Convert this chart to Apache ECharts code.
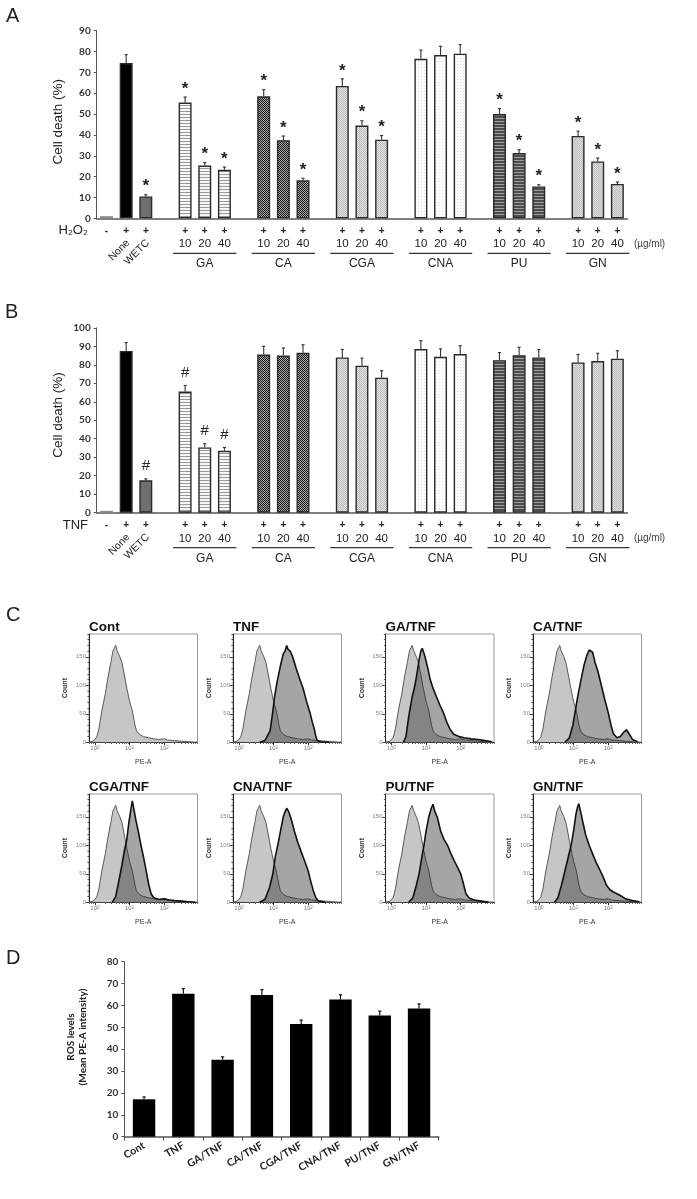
<!DOCTYPE html>
<html><head><meta charset="utf-8">
<script src="https://cdn.jsdelivr.net/npm/echarts@6/dist/echarts.min.js"></script>
<style>html,body{margin:0;padding:0;background:#fff}#c{width:697px;height:1199px}</style>
</head><body><div id="c"></div>
<script>
// ---------------- DATA ----------------
const barCategories = ['Control','None','WETC','gap1','GA 10','GA 20','GA 40','gap2','CA 10','CA 20','CA 40','gap3',
  'CGA 10','CGA 20','CGA 40','gap4','CNA 10','CNA 20','CNA 40','gap5','PU 10','PU 20','PU 40','gap6','GN 10','GN 20','GN 40'];
const stimulusSigns = ['-','+','+','','+','+','+','','+','+','+','','+','+','+','','+','+','+','','+','+','+','','+','+','+'];
const doseLabels = ['','','','','10','20','40','','10','20','40','','10','20','40','','10','20','40','','10','20','40','','10','20','40'];
const rotatedLabels = ['','None','WETC'];
const groupNames = ['GA','CA','CGA','CNA','PU','GN'];
const groupFirstIndex = [4,8,12,16,20,24];

const h2o2Death = [1,74.5,10.5,null,55.5,25.3,23.3,null,58.5,37.5,18.2,null,63.5,44.5,37.7,null,76.5,78.3,79,null,50,31.3,15.3,null,39.5,27.3,16.5];
const h2o2Err   = [0,4,0.8,null,2.7,1.4,1.3,null,3.2,2,1,null,3.4,2.3,2,null,4.2,4.2,4.3,null,2.6,1.6,0.8,null,2.3,1.6,0.9];
const h2o2Marks = ['','','*','','*','*','*','','*','*','*','','*','*','*','','','','','','*','*','*','','*','*','*'];

const tnfDeath = [1,87.5,17.5,null,65.5,35.3,33.5,null,85.5,85,86.5,null,84,79.5,73,null,88.5,84.3,85.8,null,82.5,85.2,84,null,81.3,82,83.3];
const tnfErr   = [0,4.5,0.8,null,3.3,2,1.8,null,4.5,4.1,4.3,null,4.3,4.1,3.8,null,4.5,4.3,4.5,null,4.1,4.3,4.2,null,4.3,4.2,4.3];
const tnfMarks = ['','','#','','#','#','#'];

const histTitles = ['Cont','TNF','GA/TNF','CA/TNF','CGA/TNF','CNA/TNF','PU/TNF','GN/TNF'];
const histControl = [[-0.17,0],[-0.05,2],[0.05,8],[0.12,25],[0.2,55],[0.3,85],[0.38,115],[0.46,140],[0.52,160],[0.56,157],[0.6,170],[0.64,161],[0.68,164],[0.72,150],[0.78,140],[0.85,118],[0.92,95],[1.0,72],[1.08,55],[1.15,32],[1.2,20],[1.28,14],[1.4,10],[1.55,8],[1.7,6],[1.85,5],[2.0,6],[2.1,4],[2.3,3],[2.5,2],[2.7,1],[2.95,0]];
const histTNF = [[0.6,0],[0.75,3],[0.9,20],[0.97,50],[1.03,80],[1.1,105],[1.2,135],[1.28,155],[1.33,160],[1.38,170],[1.42,163],[1.48,160],[1.55,150],[1.65,130],[1.75,112],[1.85,95],[1.95,72],[2.05,52],[2.12,35],[2.18,22],[2.22,10],[2.26,3],[2.35,1],[2.6,0]];
const histGA = [[0.35,0],[0.42,10],[0.5,45],[0.6,80],[0.68,100],[0.75,125],[0.8,145],[0.85,160],[0.89,165],[0.93,158],[0.97,150],[1.05,130],[1.12,110],[1.2,95],[1.3,80],[1.4,65],[1.5,52],[1.6,35],[1.7,22],[1.8,14],[1.95,10],[2.1,8],[2.3,6],[2.5,5],[2.7,3],[2.9,1]];
const histCA = [[0.75,0],[0.88,8],[0.98,30],[1.05,55],[1.12,80],[1.2,105],[1.3,135],[1.38,152],[1.45,162],[1.5,165],[1.55,158],[1.62,140],[1.7,125],[1.8,100],[1.9,75],[2.0,52],[2.08,30],[2.15,15],[2.25,8],[2.35,10],[2.45,18],[2.53,22],[2.6,15],[2.7,5],[2.85,1]];
const histCGA = [[0.5,0],[0.6,10],[0.7,40],[0.78,65],[0.85,90],[0.92,110],[0.98,140],[1.03,160],[1.08,178],[1.12,165],[1.18,145],[1.25,125],[1.33,100],[1.4,80],[1.48,55],[1.55,32],[1.62,15],[1.7,8],[1.85,5],[2.0,6],[2.15,4],[2.3,3],[2.5,2],[2.7,1],[2.9,0]];
const histCNA = [[0.6,0],[0.75,5],[0.88,25],[0.98,50],[1.05,80],[1.12,100],[1.2,125],[1.28,150],[1.34,160],[1.38,165],[1.43,160],[1.5,148],[1.6,125],[1.7,105],[1.8,88],[1.9,72],[2.0,55],[2.08,35],[2.15,20],[2.22,8],[2.3,2],[2.5,0]];
const histPU = [[0.5,0],[0.62,8],[0.72,30],[0.8,50],[0.88,80],[0.94,100],[1.0,125],[1.08,150],[1.15,165],[1.2,172],[1.25,160],[1.33,148],[1.42,125],[1.52,110],[1.62,100],[1.72,85],[1.82,72],[1.92,60],[2.0,50],[2.08,32],[2.15,15],[2.25,7],[2.4,4],[2.6,2],[2.8,0]];
const histGN = [[0.45,0],[0.55,8],[0.65,30],[0.75,55],[0.85,80],[0.93,100],[1.0,125],[1.07,155],[1.12,168],[1.15,173],[1.2,160],[1.27,140],[1.35,118],[1.45,100],[1.55,85],[1.65,70],[1.75,58],[1.85,45],[1.95,30],[2.05,22],[2.15,18],[2.25,15],[2.35,12],[2.5,6],[2.7,3],[2.9,1]];
const histTreatments = [null,histTNF,histGA,histCA,histCGA,histCNA,histPU,histGN];
const countTicks = [0,50,100,150];
const decadeTicks = [0,1,2];

const rosCategories = ['Cont','TNF','GA/TNF','CA/TNF','CGA/TNF','CNA/TNF','PU/TNF','GN/TNF'];
const rosLevels = [17.1,65.3,35.2,64.8,51.5,62.7,55.4,58.6];
const rosErr    = [1.1,2.4,1.3,2.4,1.8,2.2,2.0,2.1];

// ---------------- STYLE ----------------
const fArial = "'Liberation Sans', Arial, sans-serif";
const fTick = "Lato, 'Liberation Sans', sans-serif";
function pattern(w,h,draw){const c=document.createElement('canvas');c.width=w;c.height=h;draw(c.getContext('2d'));return {image:c,repeat:'repeat'};}
const fills = {
  ctrl:'#dcdcdc', none:'#000000', wetc:'#6f6f6f',
  ga: pattern(4,3,g=>{g.fillStyle='#f6f6f6';g.fillRect(0,0,4,3);g.fillStyle='#9a9a9a';g.fillRect(0,0,4,1);}),
  ca: pattern(2,2,g=>{g.fillStyle='#a8a8a8';g.fillRect(0,0,2,2);g.fillStyle='#1a1a1a';g.fillRect(0,0,1,1);g.fillRect(1,1,1,1);}),
  cga: pattern(2,2,g=>{g.fillStyle='#e6e6e6';g.fillRect(0,0,2,2);g.fillStyle='#b9b9b9';g.fillRect(0,0,1,1);g.fillRect(1,1,1,1);}),
  cna: pattern(3,3,g=>{g.fillStyle='#fcfcfc';g.fillRect(0,0,3,3);g.fillStyle='#e0e0e0';g.fillRect(1,1,1,1);}),
  pu: pattern(4,3,g=>{g.fillStyle='#4c4c4c';g.fillRect(0,0,4,3);g.fillStyle='#a0a0a0';g.fillRect(0,1,4,1);}),
  gn: pattern(2,2,g=>{g.fillStyle='#dcdcdc';g.fillRect(0,0,2,2);g.fillStyle='#bfbfbf';g.fillRect(0,0,1,1);g.fillRect(1,1,1,1);})
};
const groupStyleKeys = ['ga','ca','cga','cna','pu','gn'];
function styleKey(i){ if(i<3) return ['ctrl','none','wetc'][i]; const g=groupFirstIndex.findIndex(s=>i>=s&&i<s+3); return g<0?null:groupStyleKeys[g]; }

function barSeries(vals, xi, yi){
  return {type:'bar', xAxisIndex:xi, yAxisIndex:yi, barCategoryGap:'34%', z:3, silent:true,
    data: vals.map((v,i)=> v==null ? '-' : {value:v, itemStyle:{color:fills[styleKey(i)], borderColor: i===0?'#8a8a8a':'#2a2a2a', borderWidth:1.4}})};
}
function errSeries(vals, errs, marks, xi, yi, markFont, markOff, color){
  const data=[]; vals.forEach((v,i)=>{ if(v!=null) data.push([i,v,errs[i]]); });
  return {type:'custom', xAxisIndex:xi, yAxisIndex:yi, z:10, silent:true, data,
    renderItem(params, api){
      const i=api.value(0), v=api.value(1), e=api.value(2);
      const p0=api.coord([i,v]), p1=api.coord([i,v+e]);
      const ch=[];
      if(e>0){
        ch.push({type:'line', shape:{x1:p0[0],y1:p0[1],x2:p1[0],y2:p1[1]}, style:{stroke:color,lineWidth:1.1}});
        ch.push({type:'line', shape:{x1:p1[0]-1.6,y1:p1[1],x2:p1[0]+1.6,y2:p1[1]}, style:{stroke:color,lineWidth:1.1}});
      }
      const m = marks && marks[i] ? marks[i] : '';
      if(m) ch.push({type:'text', x:p1[0], y:p1[1]-markOff, style:{text:m, font:markFont, fill:'#222', align:'center', verticalAlign:'middle'}});
      return {type:'group', children:ch};
    }};
}

const grids=[], xAxes=[], yAxes=[], series=[];
// ----- Panels A & B -----
function cellDeathPanel(top, bottom, maxY, vals, errs, marks, markFont, markOff){
  const gi=grids.length;
  grids.push({left:96.7, width:530.5, top:top, height:bottom-top});
  const xi=xAxes.length;
  xAxes.push({type:'category', gridIndex:gi, position:'bottom', data:barCategories, axisLine:{lineStyle:{color:'#7f7f7f',width:2}}, axisTick:{show:false}, axisLabel:{show:false}});
  xAxes.push({type:'category', gridIndex:gi, position:'bottom', data:barCategories, axisLine:{show:false}, axisTick:{show:false},
    axisLabel:{interval:0, margin:6, color:'#222', formatter:(v,i)=>{const s=stimulusSigns[i]; if(!s) return ''; const d=doseLabels[i]; return d?`{s|${s}}\n{d|${d}}`:`{s|${s}}`;},
      rich:{s:{fontFamily:fArial,fontSize:10,fontWeight:'bold',lineHeight:13.3,color:'#222'}, d:{fontFamily:fArial,fontSize:11.5,lineHeight:13.3,color:'#222'}}}});
  const yi=yAxes.length;
  yAxes.push({type:'value', gridIndex:gi, position:'left', min:0, max:maxY, interval:10, axisLine:{show:true,lineStyle:{color:'#555',width:1}},
    axisTick:{show:true,length:3,lineStyle:{color:'#555'}}, splitLine:{show:false},
    axisLabel:{fontFamily:fTick,fontSize:10,fontWeight:'bold',color:'#333',margin:6}});
  series.push(barSeries(vals, xi, yi));
  series.push(errSeries(vals, errs, marks, xi, yi, markFont, markOff, '#333'));
  return {xi, yi};
}
const pA = cellDeathPanel(30.7, 218.3, 90, h2o2Death, h2o2Err, h2o2Marks, "bold 17px "+fArial, 8);
const pB = cellDeathPanel(327.8, 512.7, 100, tnfDeath, tnfErr, tnfMarks, "15px "+fArial, 13);

// ----- Panel C -----
const histLeft=[89,233,385.5,533], histTop=[634,794], histW=108.5, histH=108.3;
const minorLog=[]; for(let d=-1; d<=2; d++) for(let k=2;k<=9;k++){const v=Math.log10(k)+d; if(v>-0.17&&v<2.96) minorLog.push(v);}
const minorCount=[]; for(let c=0;c<=190;c+=10) minorCount.push(c);
const histPanelAxes=[];
histTitles.forEach((t,k)=>{
  const gi=grids.length;
  const left=histLeft[k%4], top=histTop[Math.floor(k/4)];
  grids.push({left, top, width:histW, height:histH, show:true, borderColor:'#9a9a9a', borderWidth:1, backgroundColor:'transparent'});
  const xi=xAxes.length;
  xAxes.push({type:'value', gridIndex:gi, position:'bottom', min:-0.17, max:2.96, axisLine:{onZero:false,lineStyle:{color:'#222',width:1}},
    axisTick:{show:true,length:3,customValues:decadeTicks,lineStyle:{color:'#333'}}, splitLine:{show:false},
    axisLabel:{customValues:decadeTicks, margin:3, formatter:v=>`{b|10}{s|${v}}`, rich:{b:{fontSize:6,color:'#777',fontFamily:fArial}, s:{fontSize:4.5,color:'#777',verticalAlign:'top',fontFamily:fArial}}},
    name:'PE-A', nameLocation:'middle', nameGap:16, nameTextStyle:{fontFamily:fArial,fontSize:7,color:'#333'}});
  xAxes.push({type:'value', gridIndex:gi, position:'bottom', min:-0.17, max:2.96, axisLine:{show:false,onZero:false}, axisTick:{show:true,length:1.6,customValues:minorLog,lineStyle:{color:'#555'}}, axisLabel:{show:false}, splitLine:{show:false}});
  const yi=yAxes.length;
  yAxes.push({type:'value', gridIndex:gi, position:'left', min:0, max:190, axisLine:{show:true,onZero:false,lineStyle:{color:'#222',width:1}},
    axisTick:{show:true,length:3,customValues:countTicks,lineStyle:{color:'#333'}}, splitLine:{show:false},
    axisLabel:{customValues:countTicks, margin:3, fontSize:6, color:'#888', fontFamily:fArial},
    name:'Count', nameLocation:'middle', nameGap:20, nameRotate:90, nameTextStyle:{fontFamily:fArial,fontSize:7,fontWeight:'bold',color:'#333'}});
  yAxes.push({type:'value', gridIndex:gi, position:'left', min:0, max:190, axisLine:{show:false,onZero:false}, axisTick:{show:true,length:1.6,customValues:minorCount,lineStyle:{color:'#555'}}, axisLabel:{show:false}, splitLine:{show:false}});
  series.push({type:'line', xAxisIndex:xi, yAxisIndex:yi, data:histControl, symbol:'none', silent:true, z:2,
    lineStyle:{color:'#5a5a5a',width:1}, areaStyle:{color:'#c6c6c6',opacity:1}});
  if(histTreatments[k]) series.push({type:'line', xAxisIndex:xi, yAxisIndex:yi, data:histTreatments[k], symbol:'none', silent:true, z:3,
    lineStyle:{color:'#111',width:1.6}, areaStyle:{color:'rgba(40,40,40,0.42)',opacity:1}});
  histPanelAxes.push({left, top});
});

// ----- Panel D -----
{
  const gi=grids.length;
  grids.push({left:124.4, width:314.3, top:961.7, height:175});
  const xi=xAxes.length;
  xAxes.push({type:'category', gridIndex:gi, position:'bottom', data:rosCategories, axisLine:{lineStyle:{color:'#555',width:1.5}},
    axisTick:{show:true,length:4,lineStyle:{color:'#555'}},
    axisLabel:{interval:0, rotate:30, margin:8, fontFamily:fTick, fontSize:10.5, fontWeight:'bold', color:'#222'}});
  const yi=yAxes.length;
  yAxes.push({type:'value', gridIndex:gi, position:'left', min:0, max:80, interval:10, axisLine:{show:true,lineStyle:{color:'#555',width:1}},
    axisTick:{show:true,length:3,lineStyle:{color:'#555'}}, splitLine:{show:false},
    axisLabel:{fontFamily:fTick,fontSize:10,fontWeight:'bold',color:'#333',margin:6}});
  series.push({type:'bar', xAxisIndex:xi, yAxisIndex:yi, data:rosLevels, barCategoryGap:'43%', itemStyle:{color:'#000'}, silent:true});
  series.push(errSeries(rosLevels, rosErr, null, xi, yi, '', 0, '#000'));
}

const chart = echarts.init(document.getElementById('c'), null, {renderer:'canvas', width:697, height:1199});
chart.setOption({backgroundColor:'#fff', animation:false, grid:grids, xAxis:xAxes, yAxis:yAxes, series});

// ----- Annotations positioned through the axes -----
const gfx=[];
function txt(x,y,text,font,opts){ gfx.push(Object.assign({type:'text', x, y, silent:true, style:Object.assign({text, font, fill:'#222', align:'left', verticalAlign:'middle'}, opts&&opts.style||{})}, opts&&opts.el||{})); }
function annotateCellPanel(p, stimText){
  const yb = chart.convertToPixel({yAxisIndex:p.yi}, 0);
  const px = i => chart.convertToPixel({xAxisIndex:p.xi}, i);
  txt(88, yb+12.4, stimText, "13px "+fArial, {style:{align:'right'}});
  groupNames.forEach((g,k)=>{
    const s=groupFirstIndex[k]; const a=px(s), b=px(s+2);
    gfx.push({type:'line', silent:true, shape:{x1:a-12,y1:yb+35,x2:b+12,y2:yb+35}, style:{stroke:'#333',lineWidth:1.3}});
    txt((a+b)/2, yb+45.7, g, "12px "+fArial, {style:{align:'center'}});
  });
  txt(px(barCategories.length-1)+16.5, yb+25.7, '(\u00b5g/ml)', "10px "+fArial, {style:{fill:'#444'}});
  rotatedLabels.forEach((t,i)=>{ if(!t) return;
    txt(px(i)+2, yb+23, t, "10.5px "+fArial, {el:{rotation:Math.PI/4}, style:{align:'right'}});
  });
}
annotateCellPanel(pA, 'H\u2082O\u2082');
annotateCellPanel(pB, 'TNF');
histPanelAxes.forEach((p,k)=> txt(p.left, p.top-7, histTitles[k], "bold 13.5px "+fArial, {style:{fill:'#111'}}));
txt(58.5, 121.7, 'Cell death (%)', "13.5px "+fArial, {el:{rotation:Math.PI/2}, style:{align:'center'}});
txt(58.5, 415, 'Cell death (%)', "13.5px "+fArial, {el:{rotation:Math.PI/2}, style:{align:'center'}});
txt(77, 1037, 'ROS levels\n(Mean PE-A intensity)', "bold 10px "+fTick, {el:{rotation:Math.PI/2}, style:{align:'center', lineHeight:12}});
txt(6, 16, 'A', "20px "+fArial);
txt(5, 312, 'B', "20px "+fArial);
txt(6, 615, 'C', "20px "+fArial);
txt(6, 958, 'D', "20px "+fArial);
chart.setOption({graphic:gfx});
</script></body></html>
